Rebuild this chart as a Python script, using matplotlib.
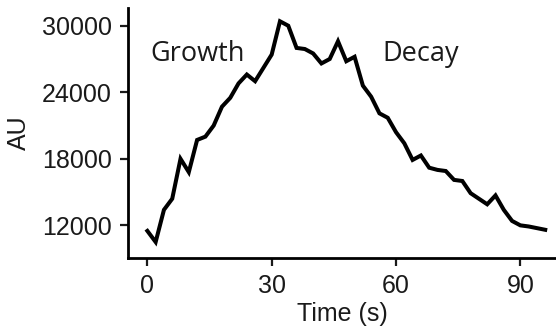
import numpy as np
import matplotlib.pyplot as plt

plt.rcParams['font.family'] = ['Liberation Sans', 'DejaVu Sans']

# signal sampled every 2 s
time_s = np.arange(0, 98, 2)
au = [11500, 10500, 13400, 14400, 18000, 16800, 19700, 20000, 21000, 22700,
      23500, 24800, 25600, 25000, 26200, 27400, 30400, 30000, 28000, 27900,
      27500, 26600, 27000, 28600, 26800, 27200, 24600, 23600, 22100, 21700,
      20400, 19400, 17900, 18300, 17200, 17000, 16900, 16100, 16000, 14900,
      14400, 13900, 14700, 13400, 12400, 12000, 11900, 11750, 11600]
x_ticks = [0, 30, 60, 90]
y_ticks = [12000, 18000, 24000, 30000]

fig = plt.figure(figsize=(5.56, 3.33), dpi=100)
ax = fig.add_axes([0.23, 0.225, 0.77, 0.751])

ax.plot(time_s, au, color='black', lw=2.9, solid_joinstyle='miter')

ax.set_xlim(-4.7, 98.6)
ax.set_ylim(9050, 31600)
ax.set_xticks(x_ticks)
ax.set_yticks(y_ticks)
ax.tick_params(labelsize=18, length=5.5, width=1.6, pad=6, colors='#1a1a1a')

for side in ['top', 'right']:
    ax.spines[side].set_visible(False)
for side in ['left', 'bottom']:
    ax.spines[side].set_linewidth(2)

ax.set_xlabel('Time (s)', fontsize=18, labelpad=3, color='#1a1a1a')
ax.set_ylabel('AU', fontsize=18, labelpad=8, color='#1a1a1a')

ax.text(0.65, 26800, 'Growth', fontsize=19.5, family='Open Sans', color='#1a1a1a')
ax.text(56.8, 26800, 'Decay', fontsize=19.5, family='Open Sans', color='#1a1a1a')

fig.savefig('out.png', dpi=100)
